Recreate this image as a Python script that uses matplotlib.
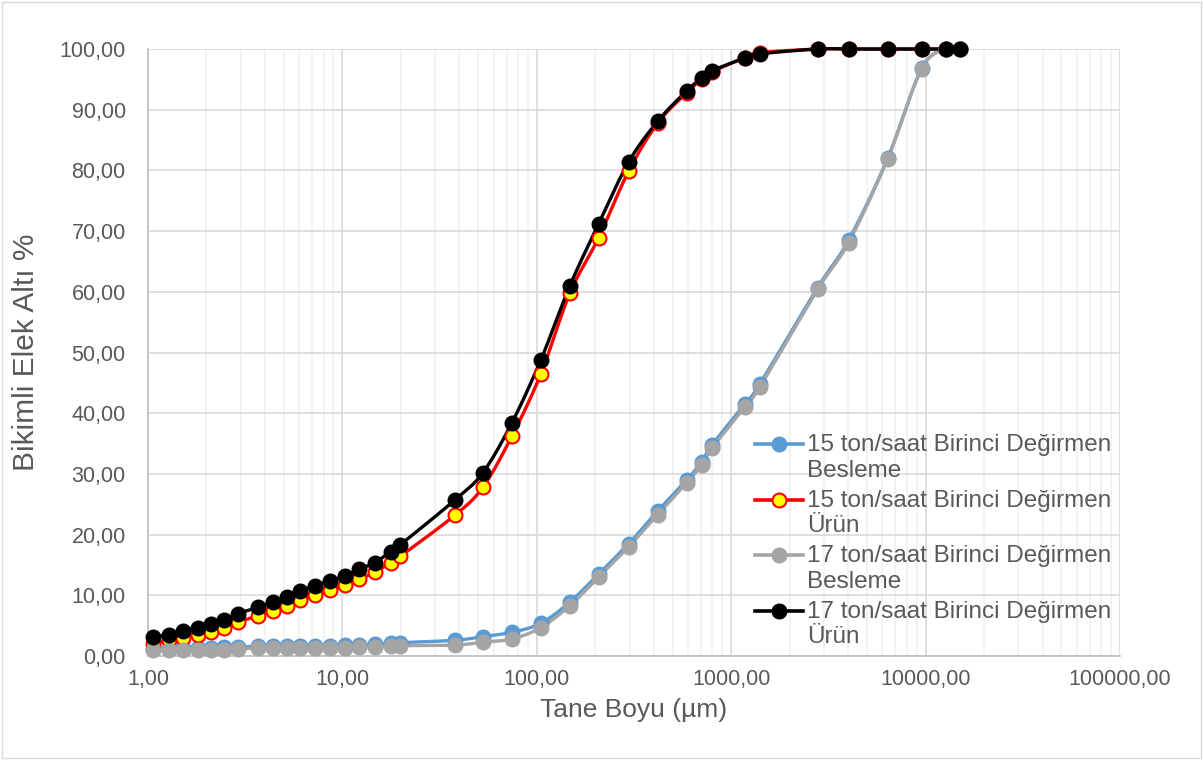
import numpy as np
import matplotlib
matplotlib.use("Agg")
import matplotlib.pyplot as plt
from matplotlib.ticker import FixedLocator, FuncFormatter, LogLocator, NullFormatter
from matplotlib.legend_handler import HandlerLine2D

plt.rcParams['font.family'] = ['Liberation Sans', 'DejaVu Sans']

# sieve sizes (um), shared by all four series
sizes = [1.06, 1.28, 1.51, 1.81, 2.11, 2.46, 2.90, 3.68, 4.39, 5.18, 6.04, 7.22, 8.62,
         10.3, 12.2, 14.7, 17.7, 19.8, 37.9, 52.8, 74.4, 105, 148, 208, 297, 419, 590,
         705, 794, 1173, 1402, 2785, 4018, 6380, 9540, 12680, 14950]

besleme_15 = [1.2, 1.3, 1.3, 1.4, 1.4, 1.5, 1.5, 1.6, 1.6, 1.6, 1.7, 1.7, 1.7, 1.8, 1.8,
              1.9, 2.1, 2.2, 2.6, 3.2, 3.9, 5.4, 8.9, 13.5, 18.5, 23.9, 29.0, 32.0, 34.7,
              41.5, 44.8, 60.7, 68.5, 82.0, 96.8, 100, 100]
urun_15 = [2.0, 2.6, 3.0, 3.4, 3.9, 4.6, 5.6, 6.6, 7.5, 8.3, 9.2, 10.1, 10.9, 11.7, 12.7,
           13.8, 15.4, 16.4, 23.2, 27.8, 36.2, 46.5, 59.8, 68.9, 79.9, 87.8, 92.8, 95.0,
           96.2, 98.6, 99.4, 100, 100, 100, 100, 100, 100]
besleme_17 = [1.0, 1.0, 1.0, 1.0, 1.0, 1.0, 1.2, 1.3, 1.4, 1.4, 1.4, 1.4, 1.4, 1.4, 1.5,
              1.5, 1.6, 1.7, 1.8, 2.3, 2.8, 4.7, 8.3, 13.0, 18.0, 23.3, 28.5, 31.5, 34.2,
              41.0, 44.3, 60.4, 68.1, 81.9, 96.7, 100, 100]
urun_17 = [3.1, 3.5, 4.1, 4.7, 5.2, 5.9, 7.0, 8.0, 8.9, 9.8, 10.7, 11.6, 12.4, 13.2, 14.3,
           15.4, 17.2, 18.3, 25.7, 30.2, 38.4, 48.8, 61.0, 71.2, 81.4, 88.1, 93.1, 95.2,
           96.4, 98.5, 99.2, 100, 100, 100, 100, 100, 100]

labels = ["15 ton/saat Birinci Değirmen\nBesleme",
          "15 ton/saat Birinci Değirmen\nÜrün",
          "17 ton/saat Birinci Değirmen\nBesleme",
          "17 ton/saat Birinci Değirmen\nÜrün"]


def smooth(x, y, n=12):
    # catmull-rom through the points in log-x space, like excel smoothed lines
    lx = np.log10(x)
    y = np.asarray(y, float)
    px = np.concatenate([[2 * lx[0] - lx[1]], lx, [2 * lx[-1] - lx[-2]]])
    py = np.concatenate([[2 * y[0] - y[1]], y, [2 * y[-1] - y[-2]]])
    xs, ys = [], []
    t = np.linspace(0, 1, n, endpoint=False)
    for i in range(1, len(px) - 2):
        for P, out in ((px, xs), (py, ys)):
            p0, p1, p2, p3 = P[i - 1], P[i], P[i + 1], P[i + 2]
            out.extend(0.5 * (2 * p1 + (-p0 + p2) * t + (2 * p0 - 5 * p1 + 4 * p2 - p3) * t ** 2
                              + (-p0 + 3 * p1 - 3 * p2 + p3) * t ** 3))
    xs.append(lx[-1])
    ys.append(y[-1])
    return 10 ** np.array(xs), np.array(ys)


class FirstLineHandler(HandlerLine2D):
    # put the legend handle level with the first line of a two-line label
    def create_artists(self, legend, orig_handle, xdescent, ydescent, width, height,
                       fontsize, trans):
        return super().create_artists(legend, orig_handle, xdescent, ydescent - 20,
                                      width, height, fontsize, trans)


fig = plt.figure(figsize=(12.03, 7.6), dpi=100)
fig.patches.append(plt.Rectangle((0.002, 0.002), 0.996, 0.996, transform=fig.transFigure,
                                 fill=False, edgecolor="#d9d9d9", linewidth=1))
ax = fig.add_axes([0.123, 0.1368, 0.808, 0.7987])

styles = [
    dict(color="#5B9BD5", mfc="#5B9BD5", mec="#5B9BD5"),
    dict(color="#FF0000", mfc="#FFFF00", mec="#FF0000"),
    dict(color="#A5A5A5", mfc="#A5A5A5", mec="#A5A5A5"),
    dict(color="#000000", mfc="#000000", mec="#000000"),
]
series = [besleme_15, urun_15, besleme_17, urun_17]

handles = []
for vals, st, lab in zip(series, styles, labels):
    sx, sy = smooth(sizes, vals)
    ax.plot(sx, sy, color=st["color"], lw=2.4, zorder=3, clip_on=False)
    ax.plot(sizes, vals, ls="none", marker="o", ms=10, mfc=st["mfc"], mec=st["mec"],
            mew=1.5, zorder=4, clip_on=False)
    h, = ax.plot([], [], color=st["color"], lw=2.6, marker="o", ms=10, mfc=st["mfc"],
                 mec=st["mec"], mew=1.5, label=lab)
    handles.append(h)

ax.set_xscale("log")
ax.set_xlim(1, 100000)
ax.set_ylim(0, 100)
ax.yaxis.set_major_locator(FixedLocator(np.arange(0, 101, 10)))
ax.yaxis.set_major_formatter(FuncFormatter(lambda v, p: f"{v:.2f}".replace(".", ",")))
ax.xaxis.set_major_locator(FixedLocator([1, 10, 100, 1000, 10000, 100000]))
ax.xaxis.set_major_formatter(FuncFormatter(lambda v, p: f"{v:.2f}".replace(".", ",")))
ax.xaxis.set_minor_locator(LogLocator(base=10, subs=np.arange(2, 10)))
ax.xaxis.set_minor_formatter(NullFormatter())

ax.grid(True, which="major", color="#d9d9d9", lw=1.2, zorder=0)
ax.grid(True, which="minor", axis="x", color="#f0f0f0", lw=1.2, zorder=0)
ax.set_axisbelow(True)
for s in ["top", "right"]:
    ax.spines[s].set_visible(False)
for s in ["left", "bottom"]:
    ax.spines[s].set_color("#bfbfbf")
    ax.spines[s].set_linewidth(1.2)
ax.tick_params(which="both", length=0, labelsize=15.5, colors="#595959")
ax.tick_params(axis="y", pad=16)
ax.tick_params(axis="x", pad=9)

ax.set_xlabel("Tane Boyu (µm)", fontsize=19, color="#595959", labelpad=6)
ax.set_ylabel("Bikimli Elek Altı %", fontsize=21.5, color="#595959", labelpad=14)

leg = ax.legend(handles=handles, loc="lower right", bbox_to_anchor=(1.006, -0.011),
                frameon=False, fontsize=17.5, labelcolor="#595959", handlelength=2.0,
                handletextpad=0.15, labelspacing=0.33, borderaxespad=0.2,
                handler_map={h: FirstLineHandler() for h in handles})
for t in leg.get_texts():
    t.set_linespacing(1.2)

fig.savefig("out.png", dpi=100)
